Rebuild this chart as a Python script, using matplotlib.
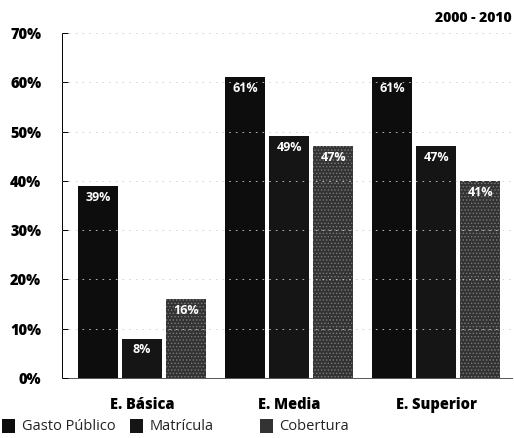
import numpy as np
import matplotlib.pyplot as plt
from matplotlib.patches import Rectangle

# datos
niveles = ["E. Básica", "E. Media", "E. Superior"]
series = ["Gasto Público", "Matrícula", "Cobertura"]
gasto = [39, 61, 61]
matricula = [8, 49, 47]
cobertura = [16, 47, 40]
etiquetas = {
    "Gasto Público": ["39%", "61%", "61%"],
    "Matrícula": ["8%", "49%", "47%"],
    "Cobertura": ["16%", "47%", "41%"],
}
y_ticks = [0, 10, 20, 30, 40, 50, 60, 70]
periodo = "2000 - 2010"

colores = ["#0d0d0d", "#151515", "#333333"]
fuente = ["Open Sans", "DejaVu Sans"]

plt.rcParams["font.family"] = fuente
plt.rcParams["hatch.linewidth"] = 0.6

fig = plt.figure(figsize=(5.14, 4.38), dpi=100)
ax = fig.add_axes([0.1206, 0.137, 0.876, 0.7877])

x = np.arange(len(niveles))
ancho = 0.272
paso = 0.30

for i, (nombre, valores) in enumerate(zip(series, [gasto, matricula, cobertura])):
    pos = x + (i - 1) * paso
    es_cob = nombre == "Cobertura"
    ax.bar(pos, valores, width=ancho, color=colores[i], zorder=2,
           hatch="....." if es_cob else None,
           edgecolor="#7a7a7a" if es_cob else colores[i],
           linewidth=0)
    for xp, v, t in zip(pos, valores, etiquetas[nombre]):
        ax.text(xp, v - 1.0, t, ha="center", va="top", color="white",
                fontsize=9, fontweight="bold", zorder=4)

ax.set_xlim(-0.544, 2.517)
ax.set_ylim(0, 70)
ax.set_yticks(y_ticks)
ax.set_yticklabels([f"{t}%" for t in y_ticks], fontsize=10.5, fontweight="heavy")
ax.set_xticks(x)
ax.set_xticklabels(niveles, fontsize=10.5, fontweight="heavy")
ax.tick_params(axis="y", direction="in", length=4, width=0.7, pad=15)
ax.tick_params(axis="x", length=0, pad=14)

ax.yaxis.grid(True, color="#cfcfcf", linestyle=(0, (2, 6)), linewidth=0.6, zorder=3)
ax.set_axisbelow(False)

for s in ["top", "right"]:
    ax.spines[s].set_visible(False)
ax.spines["left"].set_linewidth(0.7)
ax.spines["bottom"].set_linewidth(0.7)
ax.spines["bottom"].set_color("#555555")

fig.text(0.996, 0.958, periodo, ha="right", va="center", fontsize=10,
         fontweight="heavy")

# leyenda manual
leg_x = [0.004, 0.253, 0.506]
for xx, nombre, c in zip(leg_x, series, colores):
    fig.add_artist(Rectangle((xx, 0.012), 0.025, 0.032, transform=fig.transFigure,
                             facecolor=c, edgecolor="none"))
    fig.text(xx + 0.038, 0.026, nombre, ha="left", va="center", fontsize=10.5,
             color="#222222")

fig.savefig("out.png", dpi=100)
